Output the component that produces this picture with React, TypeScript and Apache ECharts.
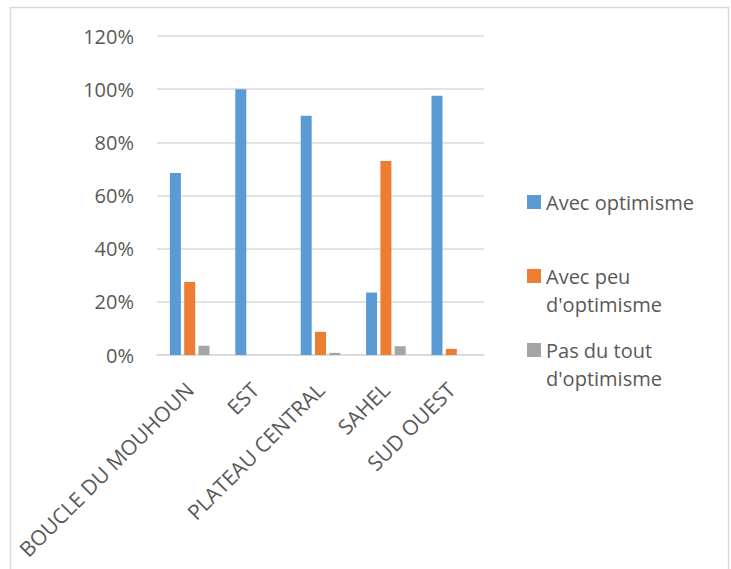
import React, { useEffect, useRef } from "react";
import * as echarts from "echarts";

const categories = ["BOUCLE DU MOUHOUN", "EST", "PLATEAU CENTRAL", "SAHEL", "SUD OUEST"];
const seriesNames = ["Avec optimisme", "Avec peu d'optimisme", "Pas du tout d'optimisme"];
const legendLabels = ["Avec optimisme", "\nAvec peu\nd'optimisme", "\nPas du tout\nd'optimisme"];
const avecOptimisme = [68.5, 100, 90, 23.5, 97.5];
const avecPeu = [27.5, 0, 8.7, 73, 2.3];
const pasDuTout = [3.5, 0, 0.8, 3.3, 0];
const colors = ["#5B9BD5", "#ED7D31", "#A5A5A5"];
const yTicks = [0, 20, 40, 60, 80, 100, 120];

export default function App() {
  const ref = useRef<HTMLDivElement>(null);
  useEffect(() => {
    document.body.style.margin = "0";
    const chart = echarts.init(ref.current!, undefined, { renderer: "svg" });
    const font = "'Open Sans', 'Noto Sans', sans-serif";
    const textColor = "#595959";
    const values = [avecOptimisme, avecPeu, pasDuTout];
    const legendTops = [188, 234, 308];
    chart.setOption({
      animation: false,
      backgroundColor: "#ffffff",
      textStyle: { fontFamily: font },
      graphic: [
        {
          type: "rect",
          shape: { x: 10.5, y: 7.5, width: 718, height: 580 },
          style: { fill: "none", stroke: "#d9d9d9", lineWidth: 1.5 },
          silent: true,
        },
      ],
      grid: { left: 157, right: 247, top: 36, bottom: 214, containLabel: false },
      legend: seriesNames.map((name, i) => ({
        data: [name],
        left: 527,
        top: legendTops[i],
        padding: 0,
        orient: "vertical",
        icon: "rect",
        itemWidth: 14,
        itemHeight: 14,
        itemGap: 5,
        selectedMode: false,
        formatter: () => legendLabels[i],
        textStyle: {
          fontFamily: font,
          fontSize: 20,
          color: textColor,
          lineHeight: 28,
        },
      })),
      xAxis: {
        type: "category",
        data: categories,
        axisLine: { lineStyle: { color: "#d9d9d9", width: 1.5 } },
        axisTick: { show: false },
        axisLabel: {
          rotate: 45,
          interval: 0,
          margin: 31,
          fontSize: 21,
          fontFamily: font,
          color: textColor,
        },
      },
      yAxis: {
        type: "value",
        min: 0,
        max: 120,
        interval: 20,
        axisLine: { show: false },
        axisTick: { show: false },
        splitLine: { lineStyle: { color: "#d9d9d9", width: 1.5 } },
        axisLabel: {
          formatter: (v: number) => (yTicks.includes(v) ? `${v}%` : ""),
          fontSize: 20,
          fontFamily: font,
          color: textColor,
          margin: 23,
        },
      },
      series: seriesNames.map((name, i) => ({
        name,
        type: "bar",
        data: values[i],
        barWidth: 11,
        barGap: "30%",
        itemStyle: { color: colors[i] },
      })),
    });
    return () => chart.dispose();
  }, []);
  return <div ref={ref} style={{ width: 731, height: 569 }} />;
}
